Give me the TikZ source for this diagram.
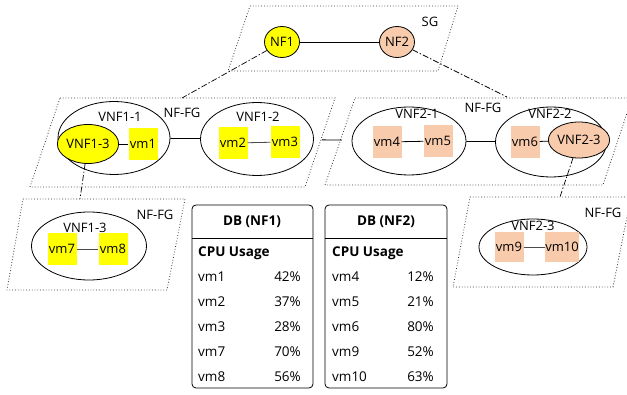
\documentclass[tikz,border=0pt]{standalone}
\usepackage{fontspec}
\setmainfont{Open Sans}
\usetikzlibrary{shapes.geometric}
\definecolor{ylw}{HTML}{FFFF00}
\definecolor{peach}{HTML}{F8CBAD}
\definecolor{dotc}{HTML}{333333}
\tikzset{
  lbl/.style={font=\fontsize{13}{15}\selectfont, inner sep=0pt},
  nfc/.style={ellipse, draw=black, line width=0.8pt, minimum width=35pt, minimum height=31pt, inner sep=0pt, font=\fontsize{13}{15}\selectfont},
  vnfbig/.style={ellipse, draw=black, line width=0.8pt, fill=white, inner sep=0pt},
  vnfsmall/.style={ellipse, draw=black, line width=0.8pt, inner sep=0pt, font=\fontsize{13}{15}\selectfont},
  vmbox/.style={rectangle, minimum width=29pt, minimum height=32pt, inner sep=0pt, font=\fontsize{13}{15}\selectfont},
  pgram/.style={draw=dotc, dotted, line width=0.8pt},
  dashdot/.style={draw=black, line width=0.7pt, dash pattern=on 6pt off 2pt on 1.5pt off 2pt},
  conn/.style={draw=black, line width=0.8pt},
  gconn/.style={draw=black!70, line width=0.8pt},
  tbl/.style={draw=black, line width=0.8pt, rounded corners=4pt},
  tt/.style={font=\fontsize{13.5}{15}\selectfont, inner sep=0pt},
  th/.style={font=\fontsize{13.5}{15}\selectfont\bfseries, inner sep=0pt}
}
\begin{document}
\begin{tikzpicture}[x=1pt,y=-1pt]
\useasboundingbox (0,0) rectangle (627,395);
\clip (0,0) rectangle (627,395);
\fill[white] (0,0) rectangle (627,395);
% parallelograms
\draw[pgram] (250,6) -- (458,6) -- (438,71) -- (228,71) -- cycle;
\draw[pgram] (60,98) -- (335,98) -- (305,187) -- (30,187) -- cycle;
\draw[pgram] (355,98) -- (632,98) -- (603,185) -- (325,185) -- cycle;
\draw[pgram] (23,199) -- (185,199) -- (167,290) -- (7,290) -- cycle;
\draw[pgram] (470,197) -- (631,197) -- (613,287) -- (453,287) -- cycle;
% SG
\node[lbl] (sg) at (430,22) {SG};
\node[nfc, fill=ylw] (nf1) at (282,42) {NF1};
\node[nfc, fill=peach] (nf2) at (397,42) {NF2};
\draw[conn] (nf1) -- (nf2);
% NF-FG left
\node[lbl] (fgl) at (182,113) {NF-FG};
\node[vnfbig, minimum width=112pt, minimum height=73pt] (vnf11) at (114,138) {};
\node[lbl] (vnf11l) at (120,117) {VNF1-1};
\node[vnfsmall, fill=ylw, minimum width=51pt, minimum height=39pt] (vnfa3) at (88,144) {VNF1-3};
\node[vmbox, fill=ylw] (vm1) at (143,144) {vm1};
\draw[conn] (vnfa3) -- (vm1);
\node[vnfbig, minimum width=113pt, minimum height=73pt] (vnf12) at (257,139) {};
\node[lbl] (vnf12l) at (258,117) {VNF1-2};
\node[vmbox, fill=ylw] (vm2) at (233,143) {vm2};
\node[vmbox, fill=ylw] (vm3) at (285,142) {vm3};
\draw[gconn] (vm2) -- (vm3);
\draw[conn] (vnf11) -- (vnf12);
% NF-FG right
\node[lbl] (fgr) at (483,108) {NF-FG};
\node[vnfbig, minimum width=114pt, minimum height=68pt] (vnf21) at (409,141) {};
\node[lbl] (vnf21l) at (417,114) {VNF2-1};
\node[vmbox, fill=peach] (vm4) at (387,142) {vm4};
\node[vmbox, fill=peach] (vm5) at (438,141) {vm5};
\draw[conn] (vm4) -- (vm5);
\node[vnfbig, minimum width=111pt, minimum height=70pt] (vnf22) at (551,142) {};
\node[lbl] (vnf22l) at (550,114) {VNF2-2};
\node[vmbox, fill=peach] (vm6) at (525,142) {vm6};
\node[vnfsmall, fill=peach, minimum width=49pt, minimum height=36pt] (vnfc3) at (579,140) {VNF2-3};
\draw[conn] (vm6) -- (vnfc3);
\draw[conn] (vnf21) -- (vnf22);
\draw[conn, shorten <=8pt, shorten >=10pt] (vnf12) -- (vnf21);
% lower left
\node[lbl] (fgll) at (155,215) {NF-FG};
\node[vnfbig, minimum width=115pt, minimum height=68pt] (vnfb3) at (89,246) {};
\node[lbl] (vnfb3l) at (85,228) {VNF1-3};
\node[vmbox, fill=ylw] (vm7) at (62,249) {vm7};
\node[vmbox, fill=ylw] (vm8) at (113,249) {vm8};
\draw[gconn] (vm7) -- (vm8);
% lower right
\node[lbl] (fglr) at (603,213) {NF-FG};
\node[vnfbig, minimum width=108pt, minimum height=56pt] (vnfd3) at (533,247) {};
\node[lbl] (vnfd3l) at (533,226) {VNF2-3};
\node[vmbox, fill=peach, minimum height=30pt] (vm9) at (509,247) {vm9};
\node[vmbox, fill=peach, minimum width=34pt, minimum height=30pt] (vm10) at (562,247) {vm10};
\draw[gconn] (vm9) -- (vm10);
% dash-dot links
\coordinate (c1) at (182,98);
\coordinate (c2) at (507,97);
\coordinate (c3) at (80,199);
\coordinate (c4) at (560,197);
\draw[dashdot] (nf1) -- (c1);
\draw[dashdot] (nf2) -- (c2);
\draw[dashdot] (vnfa3) -- (c3);
\draw[dashdot] (vnfc3) -- (c4);
% tables
\draw[tbl] (192,205) rectangle (313,388);
\draw[line width=0.8pt] (192,238) -- (313,238);
\node[th] (h1) at (252,222) {DB (NF1)};
\node[th, anchor=west] (cpu1) at (198,253) {CPU Usage};
\node[tt, anchor=west] (a1) at (198,277) {vm1};
\node[tt, anchor=east] (p1) at (301,277) {42\%};
\node[tt, anchor=west] (a2) at (198,302) {vm2};
\node[tt, anchor=east] (p2) at (301,302) {37\%};
\node[tt, anchor=west] (a3) at (198,327) {vm3};
\node[tt, anchor=east] (p3) at (301,327) {28\%};
\node[tt, anchor=west] (a4) at (198,352) {vm7};
\node[tt, anchor=east] (p4) at (301,352) {70\%};
\node[tt, anchor=west] (a5) at (198,377) {vm8};
\node[tt, anchor=east] (p5) at (301,377) {56\%};
\draw[tbl] (325,205) rectangle (447,388);
\draw[line width=0.8pt] (325,238) -- (447,238);
\node[th] (h2) at (386,222) {DB (NF2)};
\node[th, anchor=west] (cpu2) at (332,253) {CPU Usage};
\node[tt, anchor=west] (b1) at (332,277) {vm4};
\node[tt, anchor=east] (q1) at (434,277) {12\%};
\node[tt, anchor=west] (b2) at (332,302) {vm5};
\node[tt, anchor=east] (q2) at (434,302) {21\%};
\node[tt, anchor=west] (b3) at (332,327) {vm6};
\node[tt, anchor=east] (q3) at (434,327) {80\%};
\node[tt, anchor=west] (b4) at (332,352) {vm9};
\node[tt, anchor=east] (q4) at (434,352) {52\%};
\node[tt, anchor=west] (b5) at (332,377) {vm10};
\node[tt, anchor=east] (q5) at (434,377) {63\%};
\end{tikzpicture}
\end{document}
